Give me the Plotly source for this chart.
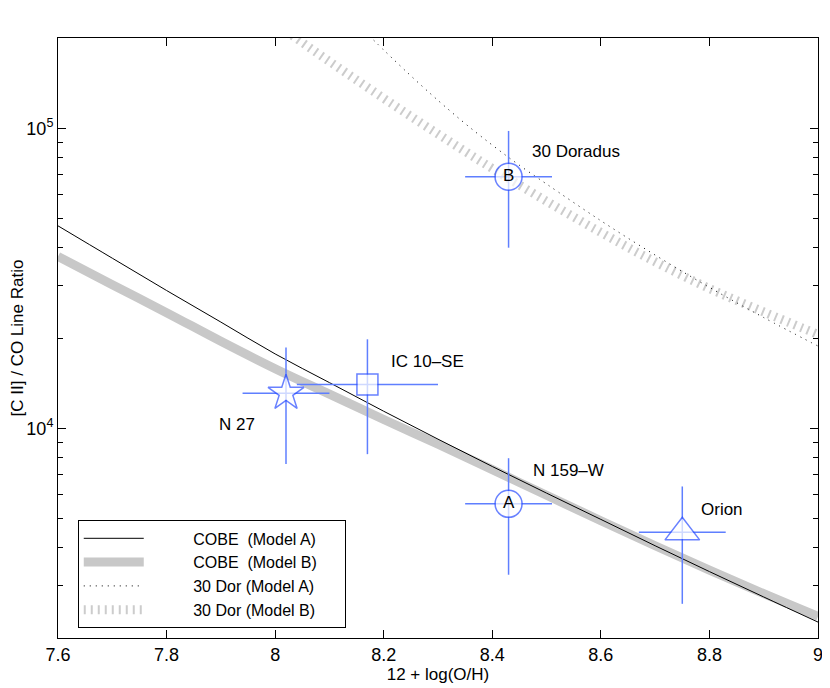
import numpy as np
import plotly.graph_objects as go

# model curves
x_model = [7.6, 7.7, 7.8, 7.9, 8.0, 8.1, 8.2, 8.3, 8.4, 8.5, 8.6, 8.7, 8.8, 8.9, 9.0]
cobe_a = [47300, 36900, 28800, 22600, 17700, 14200, 11400, 9200, 7460, 6080, 4970, 4060, 3330, 2740, 2260]
cobe_b = [37400, 30100, 24300, 19500, 15800, 13000, 10700, 8850, 7280, 5980, 4920, 4060, 3370, 2810, 2360]

x_dor_a = [8.15, 8.2, 8.25, 8.3, 8.35, 8.4, 8.45, 8.5, 8.6, 8.7, 8.8, 8.9, 9.0]
dor_a = [223900, 182400, 149600, 123900, 103700, 87900, 75300, 65200, 49200, 37800, 29500, 23400, 18800]

x_dor_b = [8.0, 8.05, 8.1, 8.15, 8.2, 8.25, 8.3, 8.35, 8.4, 8.5, 8.6, 8.7, 8.8, 8.9, 9.0]
dor_b = [224400, 193200, 167100, 144900, 125900, 109600, 95700, 83750, 73450, 57150, 44980, 35890, 29240, 24430, 20560]

# observed sources
src_x = [8.02, 8.17, 8.43, 8.43, 8.75]
src_y = [13100, 14000, 69000, 5600, 4500]
src_xerr = [0.08, 0.13, 0.08, 0.08, 0.08]
src_yerr = [5500, 5800, 29000, 2350, 1900]
src_symbol = ["star", "square", "circle", "circle", "triangle-up"]
src_size = [27, 21, 27, 27, 30]
src_inner = [None, None, "B", "A", None]

label_text = ["30 Doradus", "IC 10–SE", "N 27", "N 159–W", "Orion"]
label_x = [8.47, 8.21, 7.892, 8.472, 8.781]
label_y = [83400, 16700, 10300, 7210, 5350]

y_major = [1e4, 1e5]
y_major_text = ["10<sup>4</sup>", "10<sup>5</sup>"]
y_minor = [2000, 3000, 4000, 5000, 6000, 7000, 8000, 9000,
           20000, 30000, 40000, 50000, 60000, 70000, 80000, 90000, 200000]

FONT = "Liberation Sans, Arial, Helvetica, sans-serif"
BLUE = "#2a4dff"
BLUE_BAR = "#5f7fff"
GREY = "#c8c8c8"
sp = "\u00a0"
lead = sp * 10
tail = sp * 5

fig = go.Figure()

fig.add_trace(go.Scatter(x=x_model, y=cobe_b, mode="lines", line_shape="spline",
                         name=lead + "COBE" + sp * 2 + "(Model B)" + tail, legendrank=2,
                         line=dict(color=GREY, width=9)))
fig.add_trace(go.Scatter(x=x_model, y=cobe_a, mode="lines", line_shape="spline",
                         name=lead + "COBE" + sp * 2 + "(Model A)" + tail, legendrank=1,
                         line=dict(color="black", width=1)))
fig.add_trace(go.Scatter(x=x_dor_b, y=dor_b, mode="lines", line_shape="spline",
                         name=lead + "30 Dor (Model B)" + tail, legendrank=4,
                         line=dict(color="#cccccc", width=9, dash="2px,5px")))
fig.add_trace(go.Scatter(x=x_dor_a, y=dor_a, mode="lines", line_shape="spline",
                         name=lead + "30 Dor (Model A)" + tail, legendrank=3,
                         line=dict(color="black", width=1, dash="1px,5px")))

fig.add_trace(go.Scatter(
    x=src_x, y=src_y, mode="markers",
    marker=dict(symbol=src_symbol, size=src_size, color="white",
                line=dict(color=BLUE, width=1.5)),
    error_x=dict(type="data", array=src_xerr, color=BLUE_BAR, thickness=1.5, width=0),
    error_y=dict(type="data", array=src_yerr, color=BLUE_BAR, thickness=1.5, width=0),
    showlegend=False, cliponaxis=False,
))

# letters inside the circles
idx = [i for i, t in enumerate(src_inner) if t]
fig.add_trace(go.Scatter(
    x=[src_x[i] for i in idx], y=[src_y[i] for i in idx],
    text=[src_inner[i] for i in idx], mode="text", textposition="middle center",
    textfont=dict(size=17, color="black", family=FONT), showlegend=False,
))

for t, lx, ly in zip(label_text, label_x, label_y):
    fig.add_annotation(x=lx, y=np.log10(ly), xref="x", yref="y", text=t,
                       showarrow=False, xanchor="left", yanchor="middle",
                       font=dict(size=17, color="black", family=FONT))

axis_common = dict(showline=True, linecolor="black", linewidth=1, mirror="ticks",
                   ticks="inside", ticklen=8, tickcolor="black", showgrid=False,
                   zeroline=False, automargin=False,
                   tickfont=dict(size=18, color="black", family=FONT))

fig.update_xaxes(range=[7.6, 9.0], dtick=0.2, tick0=7.6,
                 title=dict(text="12 + log(O/H)", font=dict(size=17, family=FONT, color="black"),
                            standoff=4),
                 **axis_common)
fig.update_yaxes(type="log", range=[np.log10(2000), np.log10(200000)],
                 tickmode="array", tickvals=y_major, ticktext=y_major_text,
                 minor=dict(tickmode="array", tickvals=y_minor, ticks="inside",
                            ticklen=5, tickcolor="black"),
                 title=dict(text="[C II] / CO Line Ratio", font=dict(size=17, family=FONT, color="black"),
                            standoff=12),
                 **axis_common)

# page body has an 8px margin, so the figure is a bit smaller than the window
fig.update_layout(
    width=822, height=680,
    margin=dict(l=50, r=12, t=30, b=50),
    paper_bgcolor="white", plot_bgcolor="white",
    font=dict(family=FONT, size=17, color="black"),
    showlegend=True,
    legend=dict(x=0.026, y=0.016, xanchor="left", yanchor="bottom",
                bgcolor="white", bordercolor="black", borderwidth=1,
                font=dict(size=16, family=FONT), itemwidth=60,
                traceorder="normal"),
)

fig.write_html("out.html")
